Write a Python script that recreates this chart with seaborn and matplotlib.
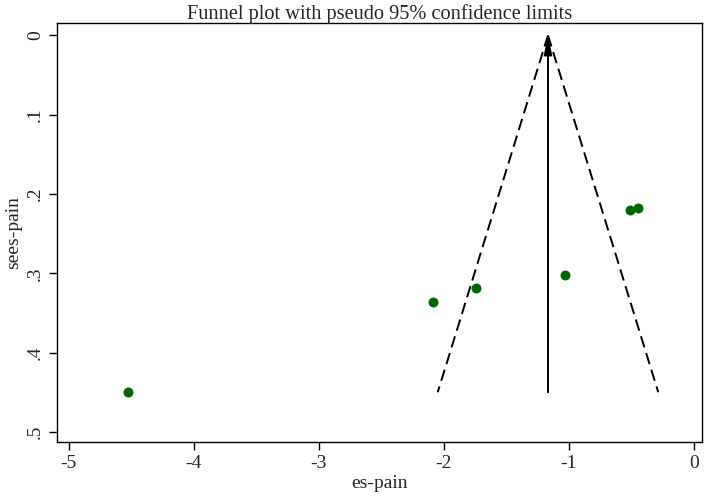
import numpy as np
import pandas as pd
import seaborn as sns
import matplotlib
matplotlib.use("Agg")
import matplotlib.pyplot as plt

# 数据
es = [-4.525, -2.09, -1.746, -1.032, -0.512, -0.446]
se = [0.450, 0.336, 0.319, 0.302, 0.220, 0.218]
theta = -1.167          # 合并效应
se_max = 0.45
lim_left = [-1.167, -2.049]
lim_right = [-1.167, -0.285]
lim_se = [0.0, se_max]
xticks = [-5, -4, -3, -2, -1, 0]
yticks = [0, 0.1, 0.2, 0.3, 0.4, 0.5]
ytick_labels = ["0", ".1", ".2", ".3", ".4", ".5"]

sns.set_theme(style="white")
plt.rcParams['font.family'] = ['Liberation Serif', 'DejaVu Serif']
plt.rcParams['axes.edgecolor'] = 'black'
plt.rcParams['axes.linewidth'] = 1.0

df = pd.DataFrame({"es": es, "se": se})

fig, ax = plt.subplots(figsize=(7.09, 4.98), dpi=100)
fig.subplots_adjust(left=0.080, right=0.990, top=0.953, bottom=0.112)

# 漏斗线
sns.lineplot(x=lim_left, y=lim_se, ax=ax, color="black", linewidth=1.4,
             linestyle=(0, (6, 3)), estimator=None, sort=False)
sns.lineplot(x=lim_right, y=lim_se, ax=ax, color="black", linewidth=1.4,
             linestyle=(0, (6, 3)), estimator=None, sort=False)

# 中心箭头
ax.annotate("", xy=(theta, 0.0), xytext=(theta, se_max),
            arrowprops=dict(arrowstyle="-|>,head_length=0.8,head_width=0.17",
                            color="black", lw=1.4, mutation_scale=14,
                            shrinkA=0, shrinkB=0))

# 散点
sns.scatterplot(data=df, x="es", y="se", ax=ax, color="#006400", s=44,
                edgecolor="#006400", linewidth=0.5, zorder=5)

ax.set_xlim(-5.096, 0.064)
ax.set_ylim(0.513, -0.015)
ax.set_xticks(xticks)
ax.set_xticklabels([str(t) for t in xticks], fontsize=14)
ax.set_yticks(yticks)
ax.set_yticklabels(ytick_labels, fontsize=14, rotation=90, va="center")
ax.tick_params(axis='both', direction='out', length=6, width=1,
               color='black', bottom=True, left=True, pad=3)

ax.set_xlabel("es-pain", fontsize=14, labelpad=2)
ax.set_ylabel("sees-pain", fontsize=14, labelpad=4)
ax.set_title("Funnel plot with pseudo 95% confidence limits", fontsize=14.7, pad=3)

for s in ax.spines.values():
    s.set_color("black")
    s.set_linewidth(1.0)

fig.savefig("out.png", dpi=100)
